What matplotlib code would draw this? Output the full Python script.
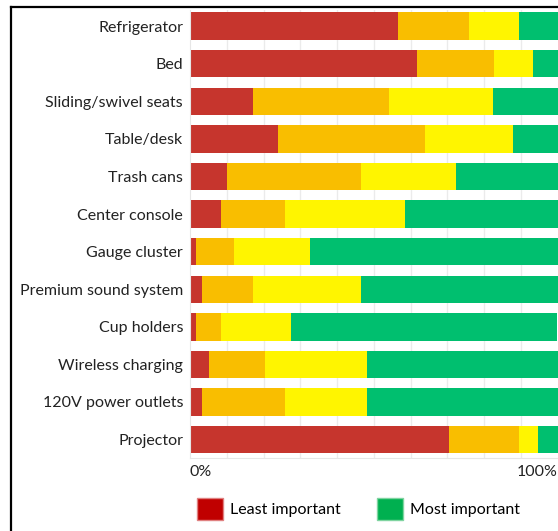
import matplotlib
matplotlib.use('Agg')
import matplotlib.pyplot as plt
from matplotlib.patches import Patch
from matplotlib.lines import Line2D
import numpy as np

plt.rcParams['font.family'] = ['Lato', 'DejaVu Sans']

features = ["Refrigerator", "Bed", "Sliding/swivel seats", "Table/desk", "Trash cans",
            "Center console", "Gauge cluster", "Premium sound system", "Cup holders",
            "Wireless charging", "120V power outlets", "Projector"]

# share of respondents (%), from least to most important
least = [56.7, 61.9, 17.2, 24.0, 10.2, 8.4, 1.5, 3.3, 1.6, 5.1, 3.3, 70.6]
low = [19.2, 20.8, 37.0, 39.9, 36.3, 17.5, 10.4, 13.8, 6.8, 15.4, 22.6, 19.0]
high = [13.7, 10.5, 28.3, 24.1, 26.0, 32.7, 20.8, 29.4, 19.0, 27.7, 22.3, 5.2]
most = [10.4, 6.8, 17.5, 12.0, 27.5, 41.4, 67.3, 53.5, 72.6, 51.8, 51.8, 5.2]

colors = ["#C6352D", "#F9BE00", "#FFF500", "#00BF6F"]

W, H = 558, 531
fig = plt.figure(figsize=(W / 100, H / 100), dpi=100)
ax = fig.add_axes([190 / W, 73 / H, 367.5 / W, 448 / H])

y = np.arange(len(features))
left = np.zeros(len(features))
for vals, c in zip([least, low, high, most], colors):
    ax.barh(y, vals, left=left, height=0.73, color=c, zorder=2)
    left += np.array(vals)

ax.set_xlim(0, 100)
ax.set_ylim(11.49, -0.43)
ax.set_yticks(y)
ax.set_yticklabels(features, fontsize=11.5, color="#222222")
ax.set_xticks(np.arange(0, 101, 10), minor=True)
ax.set_xticks([0, 100])
ax.set_xticklabels(["0%", "100%"], fontsize=11.5, color="#222222")
xl = ax.get_xticklabels()
xl[0].set_ha('left')
xl[1].set_ha('right')
ax.tick_params(axis='both', length=0, pad=5)
ax.tick_params(axis='x', which='minor', length=0)
ax.grid(axis='x', which='minor', color="#EBEBEB", linewidth=1, zorder=0)
for s in ['top', 'right']:
    ax.spines[s].set_visible(False)
for s in ['left', 'bottom']:
    ax.spines[s].set_color("#E6E6E6")

handles = [Patch(facecolor="#C00000", edgecolor="#E08080", label="Least important"),
           Patch(facecolor="#00B050", edgecolor="#7FD4A0", label="Most important")]
fig.legend(handles=handles, loc='center left', bbox_to_anchor=(197 / W, (H - 509) / H),
           ncol=2, frameon=False, fontsize=11.5, handlelength=1.6, handleheight=1.75,
           handletextpad=0.45, columnspacing=2.3, borderpad=0, borderaxespad=0)

# black frame (top and left) of the original screenshot
fig.add_artist(Line2D([11 / W, 1], [(H - 7) / H, (H - 7) / H], color='black', linewidth=1.6))
fig.add_artist(Line2D([11 / W, 11 / W], [0, (H - 7) / H], color='black', linewidth=1.6))

fig.savefig("out.png", dpi=100)
